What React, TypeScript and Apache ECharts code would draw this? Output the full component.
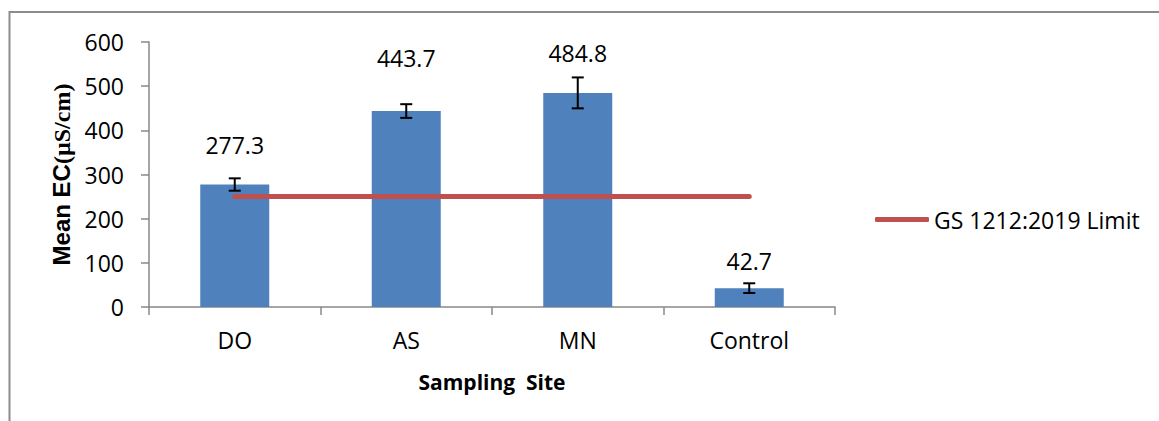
import React, { useEffect, useRef } from "react";
import * as echarts from "echarts";

const categories = ["DO", "AS", "MN", "Control"];
const meanEC = [277.3, 443.7, 484.8, 42.7];
const errorEC = [14, 15.5, 35, 11];
const limitValue = [250, 250, 250, 250];
const limitName = "GS 1212:2019 Limit";
const yTicks = { min: 0, max: 600, interval: 100 };

// label distances above bar tops (style only)
const labelDistances = [28, 42, 28, 16];

export default function App() {
  const ref = useRef<HTMLDivElement>(null);
  useEffect(() => {
    if (!ref.current) return;
    const chart = echarts.init(ref.current, undefined, { renderer: "svg" });
    const font = "'Open Sans', sans-serif";
    const axisColor = "#888888";
    chart.setOption({
      animation: false,
      backgroundColor: "#ffffff",
      textStyle: { fontFamily: font },
      grid: { left: 149, top: 42, width: 686, height: 265, containLabel: false },
      legend: {
        left: 870,
        top: 203,
        itemWidth: 54,
        itemHeight: 5,
        data: [{ name: limitName, icon: "roundRect" }],
        textStyle: { fontFamily: font, fontSize: 23, color: "#000" },
      },
      graphic: [
        {
          type: "rect",
          shape: { x: 9.5, y: 12, width: 1300, height: 600 },
          style: { fill: "none", stroke: "#8c8c8c", lineWidth: 2 },
          silent: true,
        },
      ],
      xAxis: {
        type: "category",
        data: categories,
        boundaryGap: true,
        axisLine: { show: true, lineStyle: { color: axisColor, width: 1.5 } },
        axisTick: { show: true, alignWithLabel: false, length: 8, lineStyle: { color: axisColor, width: 1.5 } },
        axisLabel: { fontFamily: font, fontSize: 23, color: "#000", margin: 21 },
        name: "Sampling  Site",
        nameLocation: "middle",
        nameGap: 64,
        nameTextStyle: { fontFamily: font, fontSize: 21, fontWeight: "bold", color: "#000" },
      },
      yAxis: {
        type: "value",
        min: yTicks.min,
        max: yTicks.max,
        interval: yTicks.interval,
        splitLine: { show: false },
        axisLine: { show: true, lineStyle: { color: axisColor, width: 1.5 } },
        axisTick: { show: true, length: 8, lineStyle: { color: axisColor, width: 1.5 } },
        axisLabel: { fontFamily: font, fontSize: 23, color: "#000", margin: 25 },
        name: "{a|Mean EC}{b|(µS/cm)}",
        nameLocation: "middle",
        nameRotate: 90,
        nameGap: 73,
        nameTextStyle: {
          rich: {
            a: { fontFamily: "'Liberation Sans', Arial, sans-serif", fontWeight: "bold", fontSize: 24, color: "#000" },
            b: { fontFamily: "'Liberation Serif', 'Times New Roman', serif", fontWeight: "bold", fontSize: 24, color: "#000" },
          },
        },
      },
      series: [
        {
          name: "Mean EC",
          type: "bar",
          barWidth: 69,
          itemStyle: { color: "#4F81BD" },
          data: meanEC.map((v, i) => ({
            value: v,
            label: {
              show: true,
              position: "top",
              distance: labelDistances[i],
              fontFamily: font,
              fontSize: 23,
              color: "#000",
              formatter: (p: any) => Number(p.value).toFixed(1),
            },
          })),
          z: 2,
        },
        {
          name: limitName,
          type: "line",
          data: limitValue,
          symbol: "none",
          lineStyle: { color: "#C0504D", width: 5, cap: "round" },
          itemStyle: { color: "#C0504D" },
          z: 3,
        },
        {
          name: "err",
          type: "custom",
          z: 4,
          data: meanEC.map((v, i) => [i, v - errorEC[i], v + errorEC[i]]),
          encode: { x: 0, y: [1, 2] },
          renderItem: (params: any, api: any) => {
            const idx = api.value(0);
            const lo = api.coord([idx, api.value(1)]);
            const hi = api.coord([idx, api.value(2)]);
            const half = 6;
            const style = { stroke: "#000", lineWidth: 2 };
            return {
              type: "group",
              children: [
                { type: "line", shape: { x1: hi[0], y1: hi[1], x2: lo[0], y2: lo[1] }, style },
                { type: "line", shape: { x1: hi[0] - half, y1: hi[1], x2: hi[0] + half, y2: hi[1] }, style },
                { type: "line", shape: { x1: lo[0] - half, y1: lo[1], x2: lo[0] + half, y2: lo[1] }, style },
              ],
            };
          },
        },
      ],
    });
    return () => chart.dispose();
  }, []);
  return (
    <div
      ref={ref}
      style={{ position: "fixed", left: 0, top: 0, width: 1159, height: 421 }}
    />
  );
}
